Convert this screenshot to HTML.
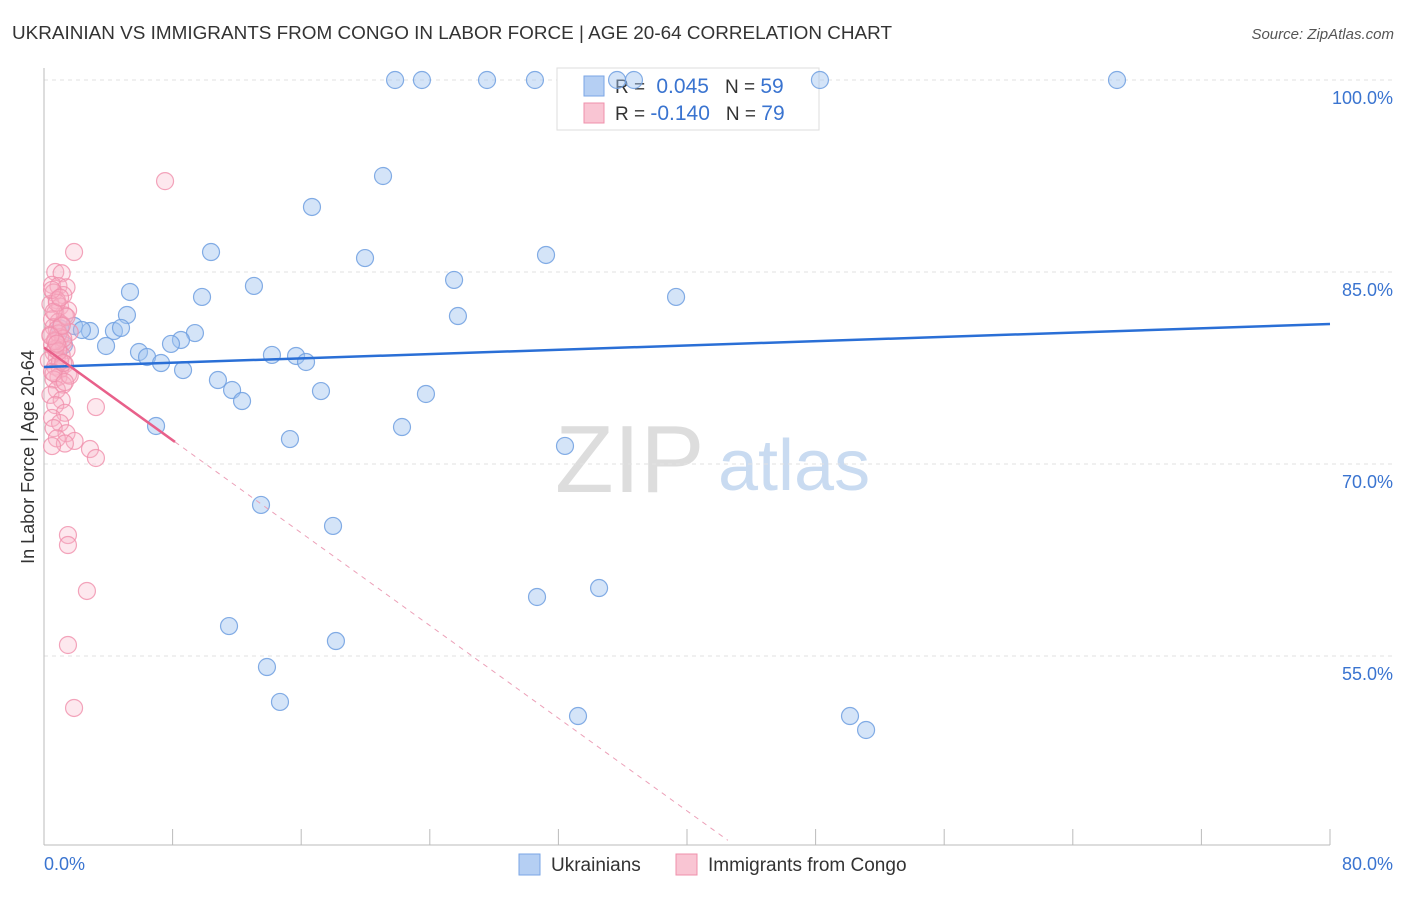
<!DOCTYPE html>
<html><head><meta charset="utf-8"><style>
body{margin:0;background:#fff;font-family:"Liberation Sans",sans-serif}
svg text{font-family:"Liberation Sans",sans-serif}
</style></head><body>
<svg id="c" width="1406" height="892" xmlns="http://www.w3.org/2000/svg">
<text x="12" y="39" font-size="18" fill="#333" textLength="880" lengthAdjust="spacingAndGlyphs">UKRAINIAN VS IMMIGRANTS FROM CONGO IN LABOR FORCE | AGE 20-64 CORRELATION CHART</text>
<text x="1394" y="39" font-size="15" fill="#555" text-anchor="end" font-style="italic">Source: ZipAtlas.com</text>
<text x="555" y="492" font-size="96" fill="#ddd" font-family="Liberation Serif">ZIP</text>
<text x="718" y="490" font-size="72" fill="#c9dbf1">atlas</text>
<text transform="translate(34,457) rotate(-90)" font-size="18" fill="#333" text-anchor="middle">In Labor Force | Age 20-64</text>
<g id="grid"></g>
<g>
<rect x="557" y="68" width="262" height="62" fill="#fff" stroke="#ddd"/>
<rect x="584" y="76" width="20" height="20" fill="#b5cff3" stroke="#7aa6e6"/>
<rect x="584" y="103" width="20" height="20" fill="#f9c5d3" stroke="#ef90ab"/>
<text x="615" y="93" font-size="19" fill="#333">R = <tspan fill="#3a74d0" dx="6" font-size="21">0.045</tspan><tspan fill="#333" dx="16">N = </tspan><tspan fill="#3a74d0" font-size="21">59</tspan></text>
<text x="615" y="120" font-size="19" fill="#333">R = <tspan fill="#3a74d0" font-size="21">-0.140</tspan><tspan fill="#333" dx="16">N = </tspan><tspan fill="#3a74d0" font-size="21">79</tspan></text>
</g>
<g id="pts"></g><g id="lines"></g>
<g>
<rect x="519" y="854" width="21" height="21" fill="#b5cff3" stroke="#7aa6e6"/>
<text x="551" y="871" font-size="19" fill="#333">Ukrainians</text>
<rect x="676" y="854" width="21" height="21" fill="#f9c5d3" stroke="#ef90ab"/>
<text x="708" y="871" font-size="19" fill="#333">Immigrants from Congo</text>
</g>
</svg>
<script>
const blueX=[21.84,23.51,27.56,30.54,35.65,36.70,48.27,66.75,21.09,16.67,10.39,19.97,31.23,25.51,13.06,5.35,9.83,39.32,5.16,25.75,1.87,2.86,4.35,4.79,9.39,8.52,7.90,3.86,5.91,6.41,7.28,8.65,14.18,15.68,16.30,10.82,11.70,12.32,17.23,23.76,6.97,22.27,15.30,32.41,13.50,17.98,34.53,30.67,11.51,18.16,13.87,14.68,33.22,50.14,51.14,1.0,1.24,2.36];
const blueY=[100,100,100,100,100,100,100,100,92.5,90.08,86.56,86.09,86.33,84.38,83.91,83.44,83.05,83.05,81.64,81.56,80.78,80.39,80.39,80.63,80.23,79.69,79.38,79.22,78.75,78.36,77.89,77.34,78.52,78.44,77.97,76.56,75.78,74.92,75.70,75.47,72.97,72.89,71.95,71.41,66.80,65.16,60.31,59.61,57.34,56.17,54.14,51.41,50.31,50.31,49.22,80.6,79.3,80.47];
const pinkX=[7.53,1.87,3.23,2.86,3.23,1.49,1.49,2.67,1.49,1.87,0.7,1.1,0.5,0.9,1.4,0.6,1.2,0.8,0.4,1.0,1.5,0.7,1.3,0.5,0.9,1.1,0.6,0.8,1.6,0.4,1.0,0.7,1.2,0.5,0.9,1.4,0.6,1.1,0.8,0.3,1.3,0.7,1.0,0.5,1.5,0.9,0.6,1.2,0.8,0.4,1.1,0.7,1.3,0.5,1.0,0.6,1.4,0.8,1.9,1.3,0.5,0.9,1.2,0.7,1.0,0.6,1.4,0.8,0.5,1.1,0.7,1.6,0.4,0.9,1.2,0.6,1.0,0.8,1.3];
const pinkY=[92.1,86.56,74.45,71.17,70.47,64.45,63.67,60.08,55.86,50.94,85.0,84.9,84.0,83.9,83.8,83.4,83.2,82.8,82.5,82.3,82.0,81.8,81.6,81.3,81.1,80.9,80.7,80.5,80.3,80.1,79.9,79.7,79.5,79.3,79.1,78.9,78.7,78.5,78.3,78.1,77.8,77.6,77.4,77.2,77.0,76.8,76.6,76.2,75.8,75.4,75.0,74.6,74.0,73.6,73.2,72.8,72.4,72.0,71.8,71.6,71.4,80.2,79.8,79.0,78.0,77.1,81.5,82.6,83.6,80.8,79.6,76.9,80.0,78.8,77.9,81.9,83.0,79.4,76.4];
const trendBlue=[77.58,80.94]; // y at x=0 and x=80
const trendPink=[79.1,-0.905]; // intercept, slope
const xTicks=[8,16,24,32,40,48,56,64,72,80];
const yTicks=[100,85,70,55];
const yLabels=["100.0%","85.0%","70.0%","55.0%"];
const NS="http://www.w3.org/2000/svg";
const X=v=>44+v/80*1286, Y=v=>80+(100-v)*12.8;
function mk(t,a,p){const e=document.createElementNS(NS,t);for(const k in a)e.setAttribute(k,a[k]);p.appendChild(e);return e;}
const g=document.getElementById('grid');
yTicks.forEach((t,i)=>{
 const l=mk('line',{x1:44,x2:1393,y1:Y(t),y2:Y(t),stroke:'#e2e2e2','stroke-dasharray':'4,4'},g);
 
 
 const tx=mk('text',{x:1393,y:Y(t)+24,'font-size':18,fill:'#3a74d0','text-anchor':'end'},g);tx.textContent=yLabels[i];
 
 
});
const ax=mk('line',{x1:44,x2:44,y1:68,y2:845,stroke:'#bbb'},g);


const bx=mk('line',{x1:44,x2:1330,y1:845,y2:845,stroke:'#bbb'},g);


xTicks.forEach(v=>{const t=mk('line',{x1:X(v),x2:X(v),y1:829,y2:845,stroke:'#bbb'},g);
 
 });
const l0=mk('text',{x:44,y:870,'font-size':18,fill:'#3a74d0'},g);l0.textContent='0.0%';


const l1=mk('text',{x:1393,y:870,'font-size':18,fill:'#3a74d0','text-anchor':'end'},g);l1.textContent='80.0%';


const p=document.getElementById('pts');
blueX.forEach((v,i)=>{const c=mk('circle',{cx:X(v),cy:Y(blueY[i]),r:8.5,fill:'rgba(160,195,240,0.45)',stroke:'#6f9fe0','stroke-width':1.2,'stroke-opacity':0.85},p);
 
 });
pinkX.forEach((v,i)=>{const c=mk('circle',{cx:X(v),cy:Y(pinkY[i]),r:8.5,fill:'rgba(248,180,200,0.3)',stroke:'#f08fab','stroke-width':1.2,'stroke-opacity':0.8},p);
 
 });
const L=document.getElementById('lines');
const tb=mk('line',{x1:X(0),y1:Y(trendBlue[0]),x2:X(80),y2:Y(trendBlue[1]),stroke:'#2a6fd6','stroke-width':2.5},L);


const py=x=>trendPink[0]+trendPink[1]*x;
const tp=mk('line',{x1:X(0),y1:Y(py(0)),x2:X(8.15),y2:Y(py(8.15)),stroke:'#e8608a','stroke-width':2.5},L);


const xe=(trendPink[0]-40.6)/-trendPink[1];
const td=mk('line',{x1:X(8.15),y1:Y(py(8.15)),x2:X(xe),y2:Y(py(xe)),stroke:'#eca0b8','stroke-width':1,'stroke-dasharray':'5,5'},L);


</script>
</body></html>
